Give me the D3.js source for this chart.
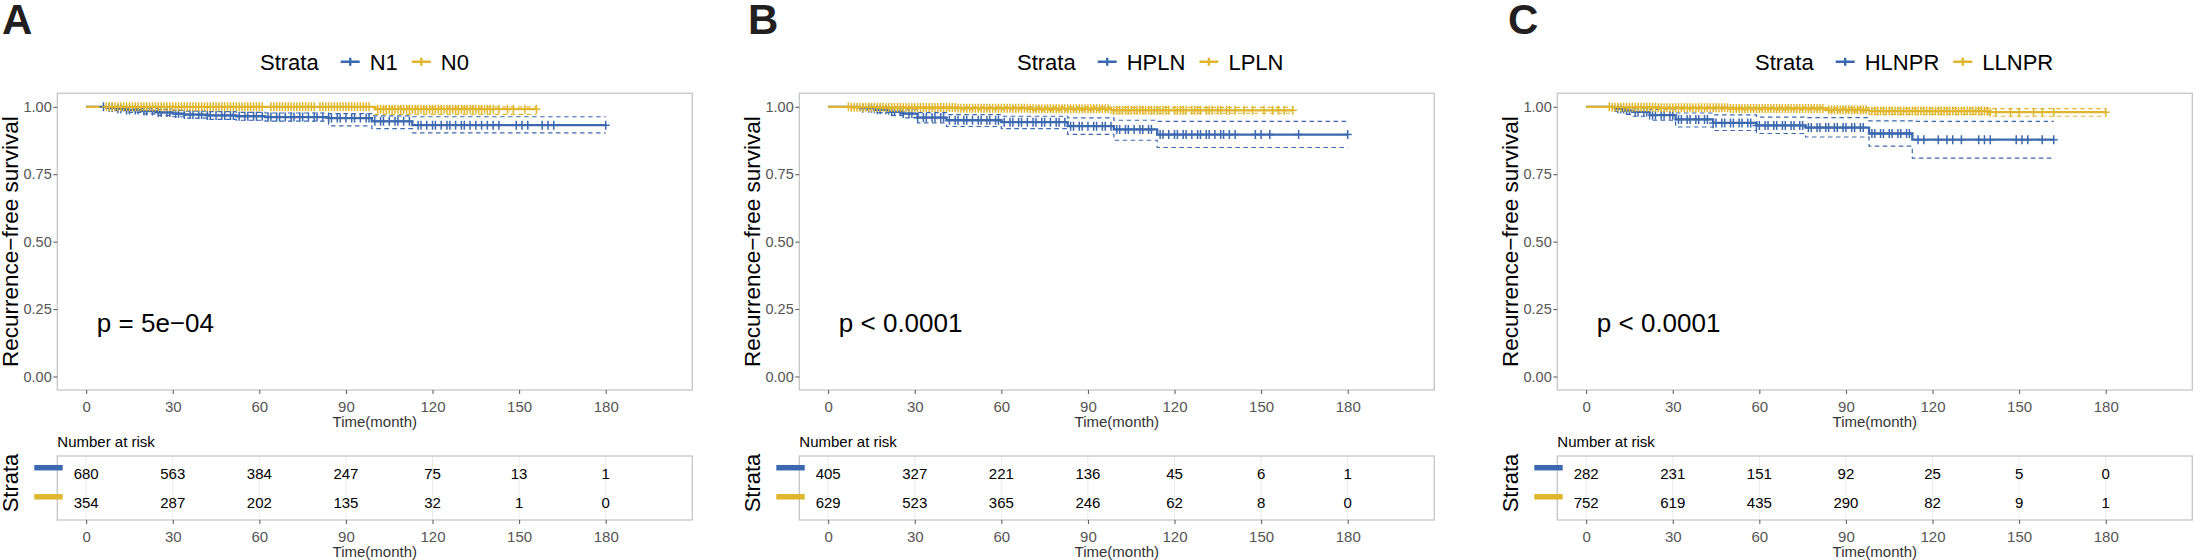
<!DOCTYPE html>
<html>
<head>
<meta charset="utf-8">
<script src="https://cdn.jsdelivr.net/npm/d3@7"></script>
<style>
  body { margin: 0; background: #fff; }
  svg text { font-family: "Liberation Sans", Arial, sans-serif; }
</style>
</head>
<body>
<svg id="chart" width="2194" height="560"></svg>
<script>
// ticks
var timeTicks = [0, 30, 60, 90, 120, 150, 180];
var survTicks = [0, 0.25, 0.5, 0.75, 1];

var panelLetters = ['A', 'B', 'C'];
var strataLabels = [['N1', 'N0'], ['HPLN', 'LPLN'], ['HLNPR', 'LLNPR']];
var pValueLabels = ['p = 5e\u221204', 'p < 0.0001', 'p < 0.0001'];

// number at risk at 0, 30, ... 180 months
var riskA = [[680, 563, 384, 247, 75, 13, 1], [354, 287, 202, 135, 32, 1, 0]];
var riskB = [[405, 327, 221, 136, 45, 6, 1], [629, 523, 365, 246, 62, 8, 0]];
var riskC = [[282, 231, 151, 92, 25, 5, 0], [752, 619, 435, 290, 82, 9, 1]];

// KM steps: [time, survival, lower CI, upper CI]
var kmA1 = [[0, 1, 1, 1], [7, 0.997, 0.992, 1], [10, 0.993, 0.986, 0.999], [14, 0.988, 0.979, 0.996],
  [19, 0.984, 0.974, 0.993], [25, 0.979, 0.968, 0.99], [30, 0.975, 0.963, 0.987], [34, 0.971, 0.958, 0.984],
  [42, 0.968, 0.953, 0.982], [52, 0.965, 0.95, 0.979], [62, 0.962, 0.947, 0.977], [84, 0.958, 0.929, 0.975],
  [99, 0.946, 0.919, 0.966], [113, 0.932, 0.903, 0.963], [180, 0.932, 0.903, 0.963]];
var kmA2 = [[0, 1, 1, 1], [100, 0.991, 0.972, 1], [156, 0.991, 0.972, 1]];

var kmB1 = [[0, 1, 1, 1], [11, 0.995, 0.988, 1], [16, 0.989, 0.978, 0.998], [21, 0.982, 0.968, 0.994],
  [26, 0.975, 0.959, 0.989], [31, 0.96, 0.94, 0.978], [41, 0.95, 0.927, 0.971], [60, 0.943, 0.919, 0.965],
  [83, 0.928, 0.898, 0.959], [99, 0.916, 0.876, 0.95], [114, 0.897, 0.849, 0.946], [180, 0.897, 0.849, 0.946]];
var kmB2 = [[0, 1, 1, 1], [8, 0.998, 0.995, 1], [20, 0.997, 0.992, 1], [45, 0.995, 0.989, 1],
  [70, 0.993, 0.986, 1], [98, 0.987, 0.976, 0.998], [161, 0.987, 0.976, 0.998]];

var kmC1 = [[0, 1, 1, 1], [10, 0.993, 0.983, 1], [13, 0.986, 0.972, 0.998], [16, 0.981, 0.965, 0.995],
  [22, 0.969, 0.95, 0.99], [31, 0.953, 0.925, 0.977], [44, 0.94, 0.912, 0.97], [59, 0.931, 0.901, 0.962],
  [76, 0.923, 0.888, 0.96], [98, 0.901, 0.854, 0.948], [113, 0.878, 0.81, 0.946], [162, 0.878, 0.81, 0.946]];
var kmC2 = [[0, 1, 1, 1], [9, 0.998, 0.995, 1], [25, 0.996, 0.991, 1], [50, 0.994, 0.988, 0.999],
  [83, 0.989, 0.981, 0.997], [98, 0.984, 0.972, 0.994], [140, 0.98, 0.965, 0.993], [180, 0.98, 0.965, 0.993]];

// censoring times (months)
var censA1 = [6, 8, 9, 11, 12, 14, 15, 17, 18, 20, 21, 23, 25, 26, 28, 29, 31, 32, 34, 36, 37, 39, 40, 42, 43,
  45, 47, 48, 50, 51, 53, 55, 56, 58, 59, 61, 63, 64, 66, 67, 69, 71, 72, 74, 75, 77, 79, 80, 82, 84, 85, 87,
  88, 90, 92, 93, 95, 97, 98, 100, 102, 103, 105, 107, 108, 110, 112, 115, 116, 118, 120, 121, 123, 125,
  126, 128, 130, 131, 133, 135, 137, 139, 141, 143, 149, 151, 153, 158, 160, 162, 180];
var censA2 = [7, 8, 9, 10, 11, 12, 13, 14, 15, 16, 17, 18, 19, 20, 21, 22, 23, 24, 25, 26, 27, 28, 29, 30, 31,
  32, 33, 34, 35, 36, 37, 38, 39, 40, 41, 42, 43, 44, 45, 46, 47, 48, 49, 50, 51, 52, 53, 54, 55, 56, 57, 58,
  59, 60, 61, 64, 65, 66, 67, 68, 69, 70, 71, 72, 73, 74, 75, 76, 77, 78, 79, 81, 82, 83, 84, 85, 86, 87, 88,
  89, 90, 91, 92, 93, 94, 95, 96, 97, 98, 101, 102, 103, 104, 105, 106, 107, 108, 109, 110, 111, 112, 113,
  114, 115, 116, 117, 118, 119, 120, 121, 122, 123, 124, 125, 126, 127, 128, 129, 130, 131, 132, 133, 134,
  135, 136, 137, 138, 139, 140, 141, 143, 146, 148, 152, 156];

var censB1 = [12, 14, 15, 17, 18, 20, 22, 23, 25, 26, 28, 29, 31, 33, 34, 36, 37, 39, 40, 42, 44, 45, 47, 48,
  50, 52, 53, 55, 56, 58, 59, 61, 63, 64, 66, 67, 69, 71, 72, 74, 75, 77, 79, 80, 82, 84, 85, 87, 88, 90, 92,
  93, 95, 96, 98, 100, 101, 103, 104, 106, 108, 109, 111, 112, 115, 116, 118, 120, 121, 123, 124, 126, 128,
  129, 131, 132, 134, 136, 137, 139, 141, 148, 150, 153, 163, 180];
var censB2 = [7, 8, 9, 10, 11, 12, 13, 14, 15, 16, 17, 18, 19, 20, 21, 22, 23, 24, 25, 26, 27, 28, 29, 30, 31,
  32, 33, 34, 35, 36, 37, 38, 39, 40, 41, 42, 43, 44, 45, 46, 47, 48, 49, 50, 51, 52, 53, 54, 55, 56, 57, 58,
  59, 60, 61, 62, 63, 64, 65, 66, 67, 68, 69, 70, 71, 72, 73, 74, 75, 76, 77, 78, 79, 80, 81, 82, 83, 84, 85,
  86, 87, 88, 89, 90, 91, 92, 93, 94, 95, 96, 97, 99, 100, 101, 102, 103, 104, 105, 106, 107, 108, 109, 110,
  111, 112, 113, 114, 115, 116, 117, 118, 120, 121, 122, 123, 124, 126, 127, 128, 129, 131, 132, 133, 135,
  136, 138, 139, 141, 144, 147, 151, 154, 156, 158, 161];

var censC1 = [11, 12, 14, 15, 17, 18, 20, 21, 23, 24, 26, 27, 29, 30, 32, 33, 35, 36, 38, 39, 41, 42, 44, 45,
  47, 48, 50, 51, 53, 54, 56, 57, 59, 60, 62, 63, 65, 66, 68, 69, 71, 72, 74, 75, 77, 78, 80, 81, 83, 84, 86,
  87, 89, 90, 92, 93, 95, 96, 99, 100, 102, 103, 105, 106, 108, 109, 111, 112, 115, 117, 122, 125, 127, 130,
  136, 138, 140, 149, 151, 153, 158, 162];
var censC2 = [8, 9, 10, 11, 12, 13, 14, 15, 16, 17, 18, 19, 20, 21, 22, 23, 24, 25, 26, 27, 28, 29, 30, 31, 32,
  33, 34, 35, 36, 37, 38, 39, 40, 41, 42, 43, 44, 45, 46, 47, 48, 49, 50, 51, 52, 53, 54, 55, 56, 57, 58, 59,
  60, 61, 62, 63, 64, 65, 66, 67, 68, 69, 70, 71, 72, 73, 74, 75, 76, 77, 78, 79, 80, 81, 82, 84, 85, 86, 87,
  88, 89, 90, 91, 92, 93, 94, 95, 96, 97, 99, 100, 101, 102, 103, 104, 105, 106, 107, 108, 109, 110, 111, 112,
  113, 114, 115, 116, 117, 118, 119, 120, 121, 122, 123, 124, 125, 126, 127, 128, 129, 130, 131, 132, 133,
  134, 135, 136, 137, 138, 139, 140, 142, 147, 150, 155, 158, 162, 180];

var strataColors = ['#3C68AF', '#DFB62D'];

// layout (pixels)
var panelX = [0, 742, 1500];
var letterX = [2, 748, 1508];
var legendX = [260, 1017, 1755];
var box = {left: 57.3, right: 692.3, top: 93.3, bottom: 390};
var riskBox = {top: 456, bottom: 520};

var svg = d3.select('#chart');
svg.append('rect').attr('width', 2194).attr('height', 560).attr('fill', '#fff');

function survAt(km, t) {
  var s = km[0][1];
  km.forEach(function (r) { if (r[0] <= t) s = r[1]; });
  return s;
}

function styleAxis(sel, size) {
  sel.select('.domain').remove();
  sel.selectAll('.tick line').attr('stroke', '#555').attr('stroke-width', 1);
  sel.selectAll('.tick text').attr('fill', '#555').attr('font-size', size)
     .attr('font-family', '"Liberation Sans", Arial, sans-serif');
}

function drawPanel(i, kms, censs, risk) {
  var g = svg.append('g').attr('transform', 'translate(' + panelX[i] + ',0)');
  var x = d3.scaleLinear().domain([-10, 210]).range([box.left, box.right]);
  var y = d3.scaleLinear().domain([-0.05, 1.05]).range([box.bottom, box.top]);

  // panel letter
  svg.append('text')
     .attr('x', letterX[i]).attr('y', 34)
     .attr('font-size', 42).attr('font-weight', 'bold').attr('fill', '#231f20')
     .text(panelLetters[i]);

  // legend
  var lg = g.append('g').attr('transform', 'translate(' + (legendX[i] - panelX[i]) + ',0)');
  var title = lg.append('text').attr('x', 0).attr('y', 69.6).attr('font-size', 22).text('Strata');
  var cx = title.node().getComputedTextLength() + 22;
  strataLabels[i].forEach(function (name, k) {
    lg.append('path')
      .attr('d', 'M' + cx + ',61.7h19M' + (cx + 9.5) + ',57.7v8')
      .attr('stroke', strataColors[k]).attr('stroke-width', 2.4).attr('fill', 'none');
    var t = lg.append('text').attr('x', cx + 29).attr('y', 69.6).attr('font-size', 22).text(name);
    cx += 29 + t.node().getComputedTextLength() + 14;
  });

  // main panel border
  g.append('rect')
   .attr('x', box.left).attr('y', box.top)
   .attr('width', box.right - box.left).attr('height', box.bottom - box.top)
   .attr('fill', 'none').attr('stroke', '#c6c6c6').attr('stroke-width', 1.3);

  var step = d3.line().curve(d3.curveStepAfter)
    .x(function (d) { return x(d[0]); });

  // confidence intervals
  kms.forEach(function (km, k) {
    [2, 3].forEach(function (col) {
      g.append('path').datum(km)
       .attr('d', step.y(function (d) { return y(d[col]); }))
       .attr('fill', 'none').attr('stroke', strataColors[k])
       .attr('stroke-width', 1.2).attr('stroke-dasharray', '4.5,3.5');
    });
  });

  // survival curves
  kms.forEach(function (km, k) {
    g.append('path').datum(km)
     .attr('d', step.y(function (d) { return y(d[1]); }))
     .attr('fill', 'none').attr('stroke', strataColors[k]).attr('stroke-width', 2.3);
  });

  // censor marks
  censs.forEach(function (cens, k) {
    g.append('g').selectAll('path').data(cens).enter().append('path')
     .attr('d', function (t) {
       var px = x(t), py = y(survAt(kms[k], t));
       return 'M' + (px - 4) + ',' + py + 'h8M' + px + ',' + (py - 4.5) + 'v9';
     })
     .attr('stroke', strataColors[k]).attr('stroke-width', 1.5).attr('fill', 'none');
  });

  // axes
  var ya = g.append('g').attr('transform', 'translate(' + box.left + ',0)')
    .call(d3.axisLeft(y).tickValues(survTicks).tickFormat(d3.format('.2f')).tickSize(4).tickPadding(1.6));
  styleAxis(ya, 14.5);

  var xa = g.append('g').attr('transform', 'translate(0,' + box.bottom + ')')
    .call(d3.axisBottom(x).tickValues(timeTicks).tickSize(4).tickPadding(7.3));
  styleAxis(xa, 15);

  g.append('text').attr('x', (box.left + box.right) / 2).attr('y', 427)
   .attr('text-anchor', 'middle').attr('font-size', 15).attr('fill', '#333').text('Time(month)');

  g.append('text')
   .attr('transform', 'translate(18,' + ((box.top + box.bottom) / 2) + ') rotate(-90)')
   .attr('text-anchor', 'middle').attr('font-size', 22.5).attr('fill', '#000')
   .text('Recurrence\u2212free survival');

  // p value
  g.append('text').attr('x', x(3.7)).attr('y', y(0.2) + 9.3)
   .attr('font-size', 26).attr('fill', '#000').text(pValueLabels[i]);

  // risk table
  var ry = d3.scalePoint().domain([0, 1]).range([riskBox.top, riskBox.bottom]).padding(0.6);

  g.append('text').attr('x', box.left).attr('y', 446.7)
   .attr('font-size', 15).attr('fill', '#000').text('Number at risk');

  g.append('g').selectAll('line').data(timeTicks).enter().append('line')
   .attr('x1', function (d) { return x(d); }).attr('x2', function (d) { return x(d); })
   .attr('y1', riskBox.top).attr('y2', riskBox.bottom)
   .attr('stroke', '#ebebeb').attr('stroke-width', 1);

  g.append('rect')
   .attr('x', box.left).attr('y', riskBox.top)
   .attr('width', box.right - box.left).attr('height', riskBox.bottom - riskBox.top)
   .attr('fill', 'none').attr('stroke', '#c6c6c6').attr('stroke-width', 1.3);

  risk.forEach(function (row, k) {
    g.append('rect').attr('x', 34.3).attr('y', ry(k) - 8.5)
     .attr('width', 28.4).attr('height', 5.5).attr('fill', strataColors[k]);
    g.append('g').selectAll('text').data(row).enter().append('text')
     .attr('x', function (d, j) { return x(timeTicks[j]); })
     .attr('y', ry(k) + 5.4)
     .attr('text-anchor', 'middle').attr('font-size', 15).attr('fill', '#000')
     .text(function (d) { return d; });
  });

  var ra = g.append('g').attr('transform', 'translate(0,' + riskBox.bottom + ')')
    .call(d3.axisBottom(x).tickValues(timeTicks).tickSize(4).tickPadding(7.3));
  styleAxis(ra, 15);

  g.append('text').attr('x', (box.left + box.right) / 2).attr('y', 556.5)
   .attr('text-anchor', 'middle').attr('font-size', 15).attr('fill', '#333').text('Time(month)');

  g.append('text')
   .attr('transform', 'translate(18,' + ((riskBox.top + riskBox.bottom) / 2 - 5) + ') rotate(-90)')
   .attr('text-anchor', 'middle').attr('font-size', 22).attr('fill', '#000').text('Strata');
}

drawPanel(0, [kmA1, kmA2], [censA1, censA2], riskA);
drawPanel(1, [kmB1, kmB2], [censB1, censB2], riskB);
drawPanel(2, [kmC1, kmC2], [censC1, censC2], riskC);
</script>
</body>
</html>
